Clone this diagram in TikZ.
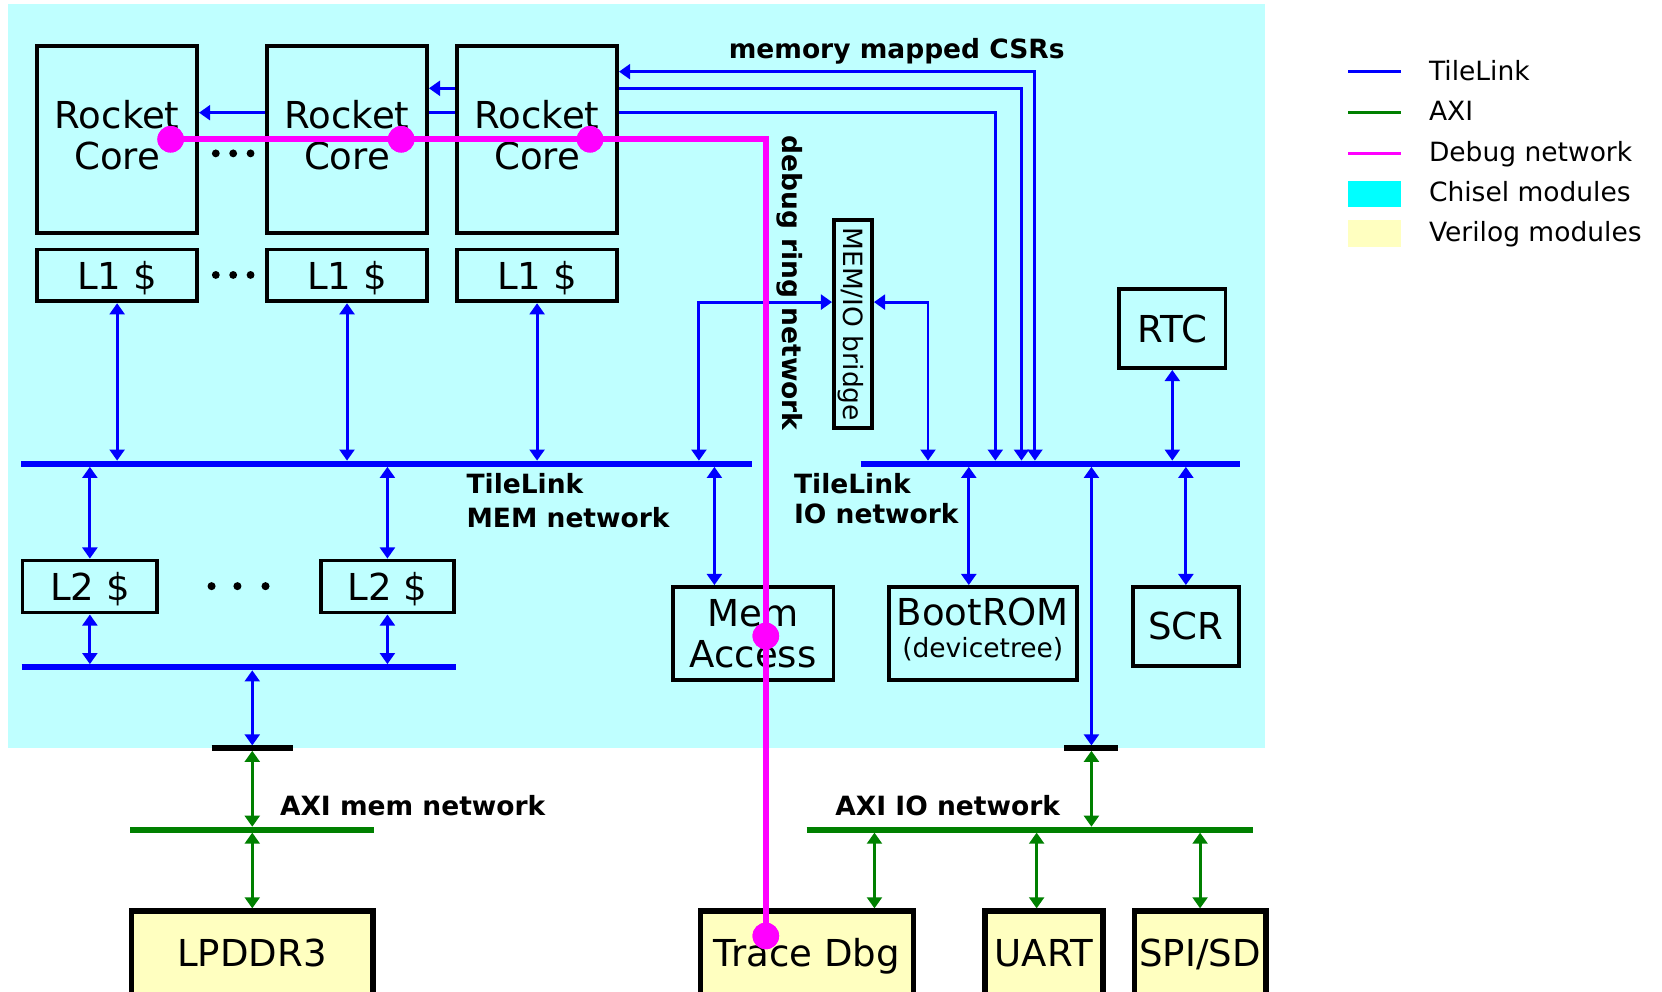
\documentclass[tikz,border=0pt]{standalone}
\usepackage{fontspec}
\setmainfont{DejaVu Sans}
\usetikzlibrary{arrows.meta}
\definecolor{bgcyan}{HTML}{BFFFFF}
\definecolor{legcyan}{HTML}{00FFFF}
\definecolor{vyellow}{HTML}{FFFFC0}
\definecolor{axigreen}{HTML}{008000}
\definecolor{tlblue}{HTML}{0000FF}
\definecolor{dbgmag}{HTML}{FF00FF}
\begin{document}
\begin{tikzpicture}[x=1pt,y=-1pt,
  >={Triangle[length=10.5pt,width=14pt]},
  tl/.style={draw=tlblue,line width=2.8pt},
  axi/.style={draw=axigreen,line width=2.8pt},
  tlbus/.style={draw=tlblue,line width=5.7pt},
  axibus/.style={draw=axigreen,line width=5.5pt},
  tbar/.style={draw=black,line width=5pt},
  dbg/.style={draw=dbgmag,line width=5.5pt},
  dbgdot/.style={circle,fill=dbgmag,minimum size=25pt,inner sep=0pt},
  chisel/.style={draw,line width=3.5pt,inner sep=0pt,align=center,font=\fontsize{35}{39}\selectfont,text height=25.5pt,text depth=0pt},
  verilog/.style={draw,line width=5pt,fill=vyellow,inner sep=0pt,align=center,font=\fontsize{35}{39}\selectfont,text height=25.5pt,text depth=0pt},
  lbl/.style={font=\fontsize{25}{30}\selectfont\bfseries,inner sep=0pt},
  legtxt/.style={font=\fontsize{25}{30}\selectfont,inner sep=0pt,anchor=base west},
]
\useasboundingbox (0,0) rectangle (1568,935);
\clip (0,0) rectangle (1568,935);
\fill[white] (0,0) rectangle (1568,935);
\fill[bgcyan] (7.8,4) rectangle (1193,706);

% ---- boxes
\node[chisel,minimum width=151pt,minimum height=176.5pt,text height=65pt,text depth=8.5pt] (c1) at (110.5,131.75) {Rocket\\Core};
\node[chisel,minimum width=151pt,minimum height=176.5pt,text height=65pt,text depth=8.5pt] (c2) at (327.4,131.75) {Rocket\\Core};
\node[chisel,minimum width=151pt,minimum height=176.5pt,text height=65pt,text depth=8.5pt] (c3) at (506.7,131.75) {Rocket\\Core};
\node[chisel,minimum width=151pt,minimum height=48.8pt] (l1a) at (110.5,259.9) {L1 \$};
\node[chisel,minimum width=151pt,minimum height=48.8pt] (l1b) at (327.4,259.9) {L1 \$};
\node[chisel,minimum width=151pt,minimum height=48.8pt] (l1c) at (506.7,259.9) {L1 \$};
\node[chisel,minimum width=127pt,minimum height=49.2pt] (l2a) at (84.8,553.35) {L2 \$};
\node[chisel,minimum width=125.5pt,minimum height=49.2pt] (l2b) at (365.5,553.35) {L2 \$};
\node[chisel,minimum width=151.5pt,minimum height=87.5pt,text height=65pt,text depth=0pt] (ma) at (710.5,597.5) {Mem\\Access};
\node[chisel,minimum width=177.4pt,minimum height=87.5pt,font=\fontsize{35}{30}\selectfont,text height=56pt,text depth=11pt] (bt) at (927.2,597.5) {BootROM\\{\fontsize{25}{30}\selectfont (devicetree)}};
\node[chisel,minimum width=100pt,minimum height=74.5pt] (scr) at (1118.8,591) {SCR};
\node[chisel,minimum width=100.5pt,minimum height=74.5pt] (rtc) at (1106,310) {RTC};
\node[chisel,minimum width=36pt,minimum height=196.2pt] (br) at (804.75,305.85) {};
\node[rotate=-90,inner sep=0pt,font=\fontsize{25}{30}\selectfont,text height=18.2pt,text depth=0pt] (brt) at (br.center) {MEM/IO bridge};
\node[verilog,minimum width=228pt,minimum height=80pt] (lp) at (237.8,899.5) {LPDDR3};
\node[verilog,minimum width=200.5pt,minimum height=80pt] (td) at (761.25,899.5) {Trace Dbg};
\node[verilog,minimum width=111.3pt,minimum height=80pt] (ua) at (984.85,899.5) {UART};
\node[verilog,minimum width=124.2pt,minimum height=80pt] (sp) at (1132.2,899.5) {SPI/SD};

% ---- ellipsis dots
\foreach \x in {203.6,220,236.4} {\fill (\x,144.7) circle (3.7pt); \fill (\x,259.4) circle (3.7pt);}
\foreach \x in {199.6,224,250.5} {\fill (\x,553) circle (3.8pt);}

% ---- helper coordinates
\coordinate (mbL) at (20,437.5);   \coordinate (mbR) at (709,437.5);
\coordinate (ibL) at (812,437.5);  \coordinate (ibR) at (1169.5,437.5);
\coordinate (lbL) at (20.4,629.5); \coordinate (lbR) at (430,629.5);
\coordinate (amL) at (123,782.7);  \coordinate (amR) at (353,782.7);
\coordinate (aiL) at (761,782.7);  \coordinate (aiR) at (1182,782.7);
\coordinate (b1L) at (199.6,705.8); \coordinate (b1R) at (276,705.8);
\coordinate (b2L) at (1004,705.8);  \coordinate (b2R) at (1055,705.8);
\coordinate (mbT) at (0,434.6); \coordinate (mbB) at (0,440.4);
\coordinate (lbT) at (0,626.6); \coordinate (lbB) at (0,632.4);
\coordinate (barT) at (0,703.3); \coordinate (barB) at (0,708.3);
\coordinate (axT) at (0,780); \coordinate (axB) at (0,785.5);
\coordinate (yA) at (0,67.6); \coordinate (yB) at (0,83.3); \coordinate (yC) at (0,106.3);
\coordinate (xA) at (976.4,0); \coordinate (xB) at (963.7,0); \coordinate (xC) at (939,0);
\coordinate (yBr) at (0,285); \coordinate (x659) at (659.4,0); \coordinate (x876) at (875.5,0);
\coordinate (x674) at (674,0); \coordinate (x238) at (238,0); \coordinate (x914) at (914,0);
\coordinate (x1030) at (1029.7,0); \coordinate (x825) at (825,0); \coordinate (x978) at (978,0);

% ---- TileLink connectors
\draw[tl,<->] (l1a.south) -- (l1a.south |- mbT);
\draw[tl,<->] (l1b.south) -- (l1b.south |- mbT);
\draw[tl,<->] (l1c.south) -- (l1c.south |- mbT);
\draw[tl,<->] (l2a.north) -- (l2a.north |- mbB);
\draw[tl,<->] (l2b.north) -- (l2b.north |- mbB);
\draw[tl,<->] (l2a.south) -- (l2a.south |- lbT);
\draw[tl,<->] (l2b.south) -- (l2b.south |- lbT);
\draw[tl,<->] (x674 |- mbB) -- (x674 |- ma.north);
\draw[tl,<->] (x238 |- lbB) -- (x238 |- barT);
\draw[tl,<->] (rtc.south) -- (rtc.south |- mbT);
\draw[tl,<->] (x914 |- mbB) -- (x914 |- bt.north);
\draw[tl,<->] (scr.north) -- (scr.north |- mbB);
\draw[tl,<->] (x1030 |- mbB) -- (x1030 |- barT);
% memory mapped CSRs
\draw[tl,<->] (c3.east |- yA) -| (xA |- mbT);
\draw[tl,->] (c3.east |- yB) -| (xB |- mbT);
\draw[tl,->] (c3.east |- yC) -| (xC |- mbT);
\draw[tl,->] (c3.west |- yB) -- (c2.east |- yB);
\draw[tl] (c3.west |- yC) -- (c2.east |- yC);
\draw[tl,->] (c2.west |- yC) -- (c1.east |- yC);
% bridge
\draw[tl,<->] (x659 |- mbT) |- (br.west |- yBr);
\draw[tl,<->] (br.east |- yBr) -| (x876 |- mbT);

% ---- AXI connectors
\draw[axi,<->] (x238 |- barB) -- (x238 |- axT);
\draw[axi,<->] (x238 |- axB) -- (x238 |- lp.north);
\draw[axi,<->] (x1030 |- barB) -- (x1030 |- axT);
\draw[axi,<->] (x825 |- axB) -- (x825 |- td.north);
\draw[axi,<->] (x978 |- axB) -- (x978 |- ua.north);
\draw[axi,<->] (sp.north) -- (sp.north |- axB);

% ---- buses
\draw[tlbus] (mbL) -- (mbR);
\draw[tlbus] (ibL) -- (ibR);
\draw[tlbus] (lbL) -- (lbR);
\draw[axibus] (amL) -- (amR);
\draw[axibus] (aiL) -- (aiR);
\draw[tbar] (b1L) -- (b1R);
\draw[tbar] (b2L) -- (b2R);

% ---- debug ring
\node[dbgdot] (dA) at (161,131.4) {};
\node[dbgdot] (dB) at (378.5,131.4) {};
\node[dbgdot] (dC) at (556.7,131.4) {};
\node[dbgdot] (dD) at (722.5,600) {};
\node[dbgdot] (dE) at (722.5,883) {};
\draw[dbg] (dA.center) -| (dE.center);
\node[dbgdot] at (dA) {};
\node[dbgdot] at (dB) {};
\node[dbgdot] at (dC) {};
\node[dbgdot] at (dD) {};
\node[dbgdot] at (dE) {};

% ---- labels
\node[lbl,anchor=base] (tcsr) at (846,55) {memory mapped CSRs};
\node[lbl,rotate=-90] (tdbg) at (745,267) {debug ring network};
\node[lbl,anchor=base west] (tm1) at (440,466) {TileLink};
\node[lbl,anchor=base west] (tm2) at (440,498) {MEM network};
\node[lbl,anchor=base west] (ti1) at (749,466) {TileLink};
\node[lbl,anchor=base west] (ti2) at (749,493.5) {IO network};
\node[lbl,anchor=base west] (tam) at (264,769.5) {AXI mem network};
\node[lbl,anchor=base west] (tai) at (788,769.5) {AXI IO network};

% ---- legend
\coordinate (lgA1) at (1272,67.6); \coordinate (lgA2) at (1322,67.6);
\coordinate (lgB1) at (1272,106); \coordinate (lgB2) at (1322,106);
\coordinate (lgC1) at (1272,144.7); \coordinate (lgC2) at (1322,144.7);
\draw[draw=tlblue,line width=2.8pt] (lgA1) -- (lgA2);
\draw[draw=axigreen,line width=2.8pt] (lgB1) -- (lgB2);
\draw[draw=dbgmag,line width=2.8pt] (lgC1) -- (lgC2);
\fill[legcyan] (1272,170.5) rectangle (1322,195);
\fill[vyellow] (1272,208) rectangle (1322,233);
\node[legtxt] (lg1) at (1348,76) {TileLink};
\node[legtxt] (lg2) at (1348,114) {AXI};
\node[legtxt] (lg3) at (1348,152) {Debug network};
\node[legtxt] (lg4) at (1348,190) {Chisel modules};
\node[legtxt] (lg5) at (1348,228) {Verilog modules};
\end{tikzpicture}
\end{document}
